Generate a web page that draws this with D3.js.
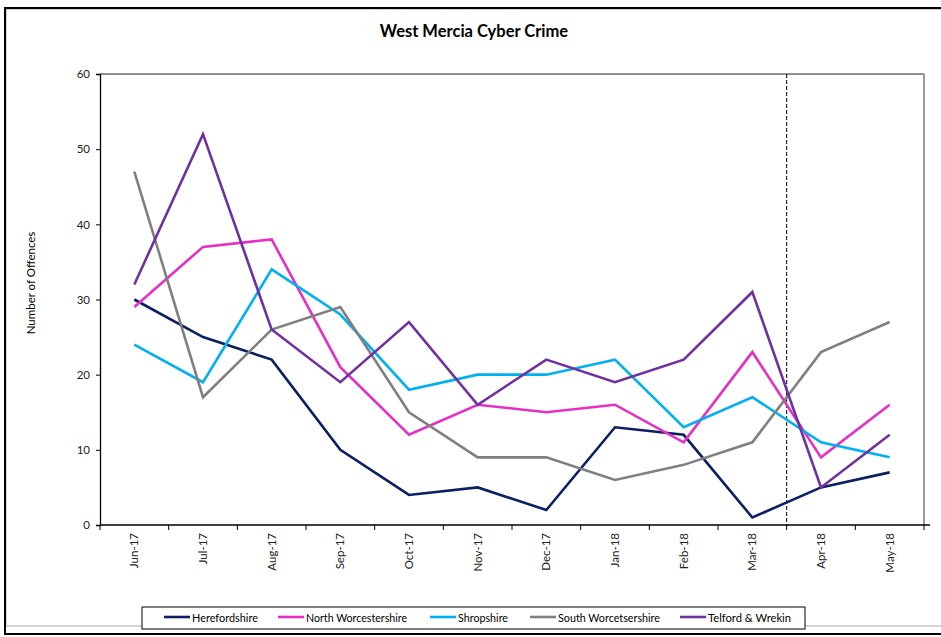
<!DOCTYPE html>
<html><head><meta charset="utf-8">
<script src="https://cdn.jsdelivr.net/npm/d3@7"></script>
<style>body{margin:0;background:#fff;}svg{display:block;}</style>
</head><body>
<script>
const months = ["Jun-17","Jul-17","Aug-17","Sep-17","Oct-17","Nov-17","Dec-17","Jan-18","Feb-18","Mar-18","Apr-18","May-18"];
const seriesNames = ["Herefordshire","North Worcestershire","Shropshire","South Worcetsershire","Telford & Wrekin"];
const herefordshire = [30,25,22,10,4,5,2,13,12,1,5,7];
const northWorcestershire = [29,37,38,21,12,16,15,16,11,23,9,16];
const shropshire = [24,19,34,28,18,20,20,22,13,17,11,9];
const southWorcestershire = [47,17,26,29,15,9,9,6,8,11,23,27];
const telfordWrekin = [32,52,26,19,27,16,22,19,22,31,5,12];
const yTicks = [0,10,20,30,40,50,60];
const colors = ["#0c1f63","#e62fc4","#00b0f0","#808080","#7030a0"];
const seriesValues = [herefordshire,northWorcestershire,shropshire,southWorcestershire,telfordWrekin];
const dividerAfter = "Mar-18";

const W=941,H=637;
const svg=d3.select("body").append("svg").attr("width",W).attr("height",H);
const font="Lato, 'Open Sans', sans-serif";

// outer frame
svg.append("rect").attr("x",6).attr("y",9).attr("width",W+20).attr("height",626-9)
  .attr("fill","none").attr("stroke","#aaa").attr("stroke-width",1);
svg.append("rect").attr("x",5).attr("y",8).attr("width",W+20).attr("height",626)
  .attr("fill","none").attr("stroke","#000").attr("stroke-width",2);

const L=100,R=924,T=74,B=525;
const x=d3.scaleBand().domain(months).range([L,R]);
const y=d3.scaleLinear().domain([0,60]).range([B,T]);

// plot border top/right
svg.append("line").attr("x1",L).attr("x2",R).attr("y1",T).attr("y2",T).attr("stroke","#222").attr("stroke-width",1);
svg.append("line").attr("x1",R).attr("x2",R).attr("y1",T).attr("y2",B).attr("stroke","#777").attr("stroke-width",1.5);

// y axis
const ya=svg.append("g").attr("transform",`translate(${L},0)`)
  .call(d3.axisLeft(y).tickValues(yTicks).tickSize(4).tickPadding(6));
ya.select(".domain").attr("stroke","#000").attr("stroke-width",1.3);
ya.selectAll(".tick line").attr("stroke","#000");
ya.selectAll("text").attr("font-family",font).attr("font-size",11.5).attr("fill","#222");

// x axis with boundary ticks
const xa=svg.append("g").attr("transform",`translate(0,${B})`);
xa.append("line").attr("x1",L).attr("x2",R+6).attr("y1",0).attr("y2",0).attr("stroke","#000").attr("stroke-width",1.3);
const bounds=months.map(m=>x(m)).concat([R]);
xa.selectAll(".bt").data(bounds).join("line").attr("x1",d=>d).attr("x2",d=>d).attr("y1",0).attr("y2",5).attr("stroke","#000");
xa.selectAll(".lbl").data(months).join("text")
  .attr("transform",d=>`translate(${x(d)+x.bandwidth()/2+4},8) rotate(-90)`)
  .attr("text-anchor","end").attr("font-family",font).attr("font-size",11.5).attr("fill","#222").text(d=>d);

// divider
const dx=x(dividerAfter)+x.bandwidth();
svg.append("line").attr("x1",dx).attr("x2",dx).attr("y1",T).attr("y2",B)
  .attr("stroke","#000").attr("stroke-width",1).attr("stroke-dasharray","4,2");

// lines
const line=d3.line().x((d,i)=>x(months[i])+x.bandwidth()/2).y(d=>y(d));
seriesValues.forEach((vals,i)=>{
  svg.append("path").datum(vals).attr("d",line).attr("fill","none")
    .attr("stroke",colors[i]).attr("stroke-width",2.6).attr("stroke-linejoin","miter");
});

// title
svg.append("text").attr("x",474).attr("y",37).attr("text-anchor","middle")
  .attr("font-family",font).attr("font-weight","bold").attr("font-size",16.5).attr("fill","#000")
  .text("West Mercia Cyber Crime");

// y label
svg.append("text").attr("transform","translate(35,283) rotate(-90)").attr("text-anchor","middle")
  .attr("font-family",font).attr("font-size",11.5).attr("fill","#000").text("Number of Offences");

// legend
svg.append("rect").attr("x",142).attr("y",607).attr("width",663).attr("height",22)
  .attr("fill","#fff").attr("stroke","#000").attr("stroke-width",1);
const legX=[164,278,430,530,680];
const legW=[66,101,50,102,83];
seriesNames.forEach((n,i)=>{
  svg.append("line").attr("x1",legX[i]).attr("x2",legX[i]+26).attr("y1",617).attr("y2",617)
    .attr("stroke",colors[i]).attr("stroke-width",2.6);
  svg.append("text").attr("x",legX[i]+28).attr("y",621.5).attr("font-family",font).attr("font-size",12)
    .attr("textLength",legW[i]).attr("lengthAdjust","spacingAndGlyphs")
    .attr("fill","#000").text(n);
});
</script>
</body></html>
